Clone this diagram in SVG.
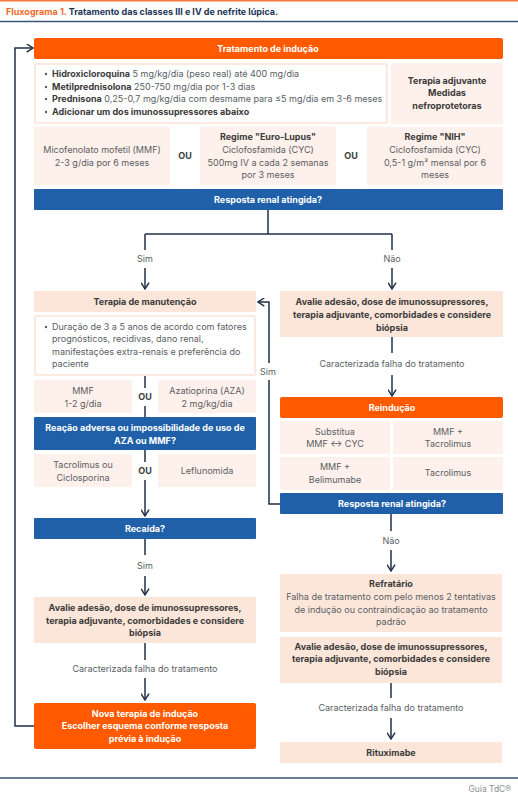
<svg xmlns="http://www.w3.org/2000/svg" width="518" height="800" viewBox="0 0 518 800">
<defs>
<marker id="ah" viewBox="0 0 10 10" refX="9" refY="5" markerWidth="9" markerHeight="9" markerUnits="userSpaceOnUse" orient="auto">
<path d="M2,0.5 L9,5 L2,9.5" fill="none" stroke="#1E3048" stroke-width="1.6"/>
</marker>
<style>
text{font-family:Inter,"Noto Sans","Liberation Sans",sans-serif;font-size:9px;}
.t{fill:#5a5e64;text-anchor:middle;}
.tl{fill:#5a5e64;}
.b{fill:#3b3b3b;font-weight:700;text-anchor:middle;}
.bl{fill:#3b3b3b;font-weight:700;}
.w{fill:#ffffff;font-weight:700;text-anchor:middle;}
.lab{fill:#5a5e64;text-anchor:middle;}
.or{fill:#FF5A00;}
.bl2{fill:#1F60A8;}
.pk{fill:#FCE6D9;}
.pl{fill:#FEF0EA;}
.wb{fill:#ffffff;stroke:#FBE2D5;stroke-width:1.5;}
.c{fill:none;stroke:#1E3048;stroke-width:1.5;}
.dot{fill:#555a60;}
</style>
</defs>
<rect width="518" height="800" fill="#ffffff"/>
<rect x="0" y="0" width="518" height="1.5" fill="#F47B3A"/>
<g id="title">
<text x="6" y="15" style="font-size:9px;font-weight:700;fill:#F06A28">Fluxograma 1. <tspan style="fill:#1D3557">Tratamento das classes III e IV de nefrite lúpica.</tspan></text>
<line x1="0" y1="21.5" x2="518" y2="21.5" stroke="#3B5575" stroke-width="1.5"/>
</g>

<g id="connectors">
<path class="c" d="M34,726 H15 V48 H33" marker-end="url(#ah)"/>
<path class="c" d="M268,210 V234"/>
<path class="c" d="M145,234 H392"/>
<path class="c" d="M145,234 V250"/>
<path class="c" d="M145,268 V289" marker-end="url(#ah)"/>
<path class="c" d="M392,234 V250"/>
<path class="c" d="M392,268 V289" marker-end="url(#ah)"/>
<path class="c" d="M392,337 V353"/>
<path class="c" d="M392,375 V396" marker-end="url(#ah)"/>
<path class="c" d="M280,504 H269 V380"/>
<path class="c" d="M269,363 V302 H258" marker-end="url(#ah)"/>
<path class="c" d="M145,376 V388"/>
<path class="c" d="M145,406 V417"/>
<path class="c" d="M145,450 V462"/>
<path class="c" d="M145,480 V516" marker-end="url(#ah)"/>
<path class="c" d="M145,539 V555"/>
<path class="c" d="M145,576 V595" marker-end="url(#ah)"/>
<path class="c" d="M145,643 V660"/>
<path class="c" d="M145,678 V700" marker-end="url(#ah)"/>
<path class="c" d="M391,514 V531"/>
<path class="c" d="M391,550 V571" marker-end="url(#ah)"/>
<path class="c" d="M391,683 V698"/>
<path class="c" d="M391,718 V739" marker-end="url(#ah)"/>
<text class="lab" x="145" y="262">Sim</text>
<text class="lab" x="392" y="262">Não</text>
<text class="lab" x="392" y="367">Caracterizada falha do tratamento</text>
<text class="lab" x="268" y="375">Sim</text>
<text class="b" x="145" y="400">OU</text>
<text class="b" x="145" y="474">OU</text>
<text class="lab" x="145" y="569">Sim</text>
<text class="lab" x="145" y="672">Caracterizada falha do tratamento</text>
<text class="lab" x="391" y="544">Não</text>
<text class="lab" x="391" y="711">Caracterizada falha do tratamento</text>
</g>

<g id="inducao">
<rect class="or" x="34" y="38" width="469" height="21" rx="2"/>
<text class="w" x="268" y="52">Tratamento de indução</text>
</g>
<g id="bullets">
<rect class="wb" x="35" y="64" width="352" height="59" rx="1"/>
<circle class="dot" cx="46" cy="74" r="1.2"/>
<circle class="dot" cx="46" cy="87" r="1.2"/>
<circle class="dot" cx="46" cy="99" r="1.2"/>
<circle class="dot" cx="46" cy="112" r="1.2"/>
<text class="tl" x="52" y="77"><tspan class="bl">Hidroxicloroquina</tspan> 5 mg/kg/dia (peso real) até 400 mg/dia</text>
<text class="tl" x="52" y="90"><tspan class="bl">Metilprednisolona</tspan> 250-750 mg/dia por 1-3 dias</text>
<text class="tl" x="52" y="102"><tspan class="bl">Prednisona</tspan> 0,25-0,7 mg/kg/dia com desmame para ≤5 mg/dia em 3-6 meses</text>
<text class="bl" x="52" y="115">Adicionar um dos imunossupressores abaixo</text>
</g>
<g id="adjuvante">
<rect class="pl" x="391" y="63" width="112" height="61" rx="1"/>
<text class="b" x="447" y="84">Terapia adjuvante</text>
<text class="b" x="447" y="96">Medidas</text>
<text class="b" x="447" y="109">nefroprotetoras</text>
</g>
<g id="mmf">
<rect class="pl" x="34" y="127" width="136" height="58" rx="1"/>
<text class="t" x="102" y="153">Micofenolato mofetil (MMF)</text>
<text class="t" x="102" y="166">2-3 g/dia por 6 meses</text>
</g>
<text class="b" x="185" y="159">OU</text>
<g id="eurolupus">
<rect class="pl" x="200" y="127" width="136" height="58" rx="1"/>
<text class="b" x="268" y="140">Regime "Euro-Lupus"</text>
<text class="t" x="268" y="153">Ciclofosfamida (CYC)</text>
<text class="t" x="268" y="166">500mg IV a cada 2 semanas</text>
<text class="t" x="268" y="178">por 3 meses</text>
</g>
<text class="b" x="351" y="159">OU</text>
<g id="nih">
<rect class="pl" x="367" y="127" width="136" height="58" rx="1"/>
<text class="b" x="435" y="140">Regime "NIH"</text>
<text class="t" x="435" y="153">Ciclofosfamida (CYC)</text>
<text class="t" x="435" y="166">0,5-1 g/m² mensal por 6</text>
<text class="t" x="435" y="178">meses</text>
</g>
<g id="resposta1">
<rect class="bl2" x="34" y="189" width="469" height="21" rx="1"/>
<text class="w" x="268" y="203">Resposta renal atingida?</text>
</g>

<g id="manutencao">
<rect class="pk" x="34" y="291" width="222" height="21" rx="1"/>
<text class="b" x="145" y="305">Terapia de manutenção</text>
</g>
<g id="manut-bullets">
<rect class="wb" x="35" y="316" width="220" height="59" rx="1"/>
<circle class="dot" cx="46" cy="327" r="1.2"/>
<text class="tl" x="52" y="330">Duração de 3 a 5 anos de acordo com fatores</text>
<text class="tl" x="52" y="342">prognósticos, recidivas, dano renal,</text>
<text class="tl" x="52" y="355">manifestações extra-renais e preferência do</text>
<text class="tl" x="52" y="367">paciente</text>
</g>
<g id="mmf2">
<rect class="pl" x="34" y="380" width="98" height="33" rx="1"/>
<text class="t" x="83" y="394">MMF</text>
<text class="t" x="83" y="407">1-2 g/dia</text>
</g>
<g id="aza">
<rect class="pl" x="158" y="380" width="98" height="33" rx="1"/>
<text class="t" x="207" y="394">Azatioprina (AZA)</text>
<text class="t" x="207" y="407">2 mg/kg/dia</text>
</g>
<g id="reacao">
<rect class="bl2" x="34" y="417" width="222" height="33" rx="1"/>
<text class="w" x="145" y="431">Reação adversa ou impossibilidade de uso de</text>
<text class="w" x="145" y="444">AZA ou MMF?</text>
</g>
<g id="tacro">
<rect class="pl" x="34" y="454" width="98" height="33" rx="1"/>
<text class="t" x="83" y="468">Tacrolimus ou</text>
<text class="t" x="83" y="481">Ciclosporina</text>
</g>
<g id="leflu">
<rect class="pl" x="158" y="454" width="98" height="33" rx="1"/>
<text class="t" x="207" y="474">Leflunomida</text>
</g>
<g id="recaida">
<rect class="bl2" x="34" y="518" width="222" height="21" rx="1"/>
<text class="w" x="145" y="532">Recaída?</text>
</g>
<g id="avalie-left">
<rect class="pk" x="34" y="597" width="222" height="46" rx="1"/>
<text class="b" x="145" y="611">Avalie adesão, dose de imunossupressores,</text>
<text class="b" x="145" y="624">terapia adjuvante, comorbidades e considere</text>
<text class="b" x="145" y="636">biópsia</text>
</g>
<g id="nova">
<rect class="or" x="34" y="703" width="222" height="46" rx="2"/>
<text class="w" x="145" y="717">Nova terapia de indução</text>
<text class="w" x="145" y="729">Escolher esquema conforme resposta</text>
<text class="w" x="145" y="742">prévia à indução</text>
</g>

<g id="avalie-right1">
<rect class="pk" x="280" y="291" width="223" height="46" rx="1"/>
<text class="b" x="392" y="305">Avalie adesão, dose de imunossupressores,</text>
<text class="b" x="392" y="318">terapia adjuvante, comorbidades e considere</text>
<text class="b" x="392" y="331">biópsia</text>
</g>
<g id="reinducao">
<rect class="or" x="280" y="397" width="223" height="21" rx="2"/>
<text class="w" x="392" y="411">Reindução</text>
</g>
<g id="r1">
<rect class="pl" x="280" y="421" width="110" height="33"/>
<text class="t" x="335" y="435">Substitua</text>
<text class="t" x="335" y="447">MMF ↔ CYC</text>
</g>
<g id="r2">
<rect class="pl" x="393" y="421" width="110" height="33"/>
<text class="t" x="448" y="435">MMF +</text>
<text class="t" x="448" y="447">Tacrolimus</text>
</g>
<g id="r3">
<rect class="pl" x="280" y="457" width="110" height="33"/>
<text class="t" x="335" y="470">MMF +</text>
<text class="t" x="335" y="483">Belimumabe</text>
</g>
<g id="r4">
<rect class="pl" x="393" y="457" width="110" height="33"/>
<text class="t" x="448" y="476">Tacrolimus</text>
</g>
<g id="resposta2">
<rect class="bl2" x="280" y="493" width="223" height="21" rx="1"/>
<text class="w" x="392" y="507">Resposta renal atingida?</text>
</g>
<g id="refratario">
<rect class="pk" x="280" y="574" width="222" height="58" rx="1"/>
<text class="b" x="391" y="587">Refratário</text>
<text class="t" x="391" y="600">Falha de tratamento com pelo menos 2 tentativas</text>
<text class="t" x="391" y="613">de indução ou contraindicação ao tratamento</text>
<text class="t" x="391" y="625">padrão</text>
</g>
<g id="avalie-right2">
<rect class="pk" x="280" y="637" width="222" height="46" rx="1"/>
<text class="b" x="391" y="650">Avalie adesão, dose de imunossupressores,</text>
<text class="b" x="391" y="662">terapia adjuvante, comorbidades e considere</text>
<text class="b" x="391" y="675">biópsia</text>
</g>
<g id="rituximabe">
<rect class="pk" x="280" y="742" width="222" height="21" rx="1"/>
<text class="b" x="391" y="756">Rituximabe</text>
</g>

<g id="footer">
<line x1="0" y1="778" x2="518" y2="778" stroke="#3B5575" stroke-width="1.5"/>
<text x="511" y="792" style="fill:#8a8d91;font-size:8.5px;text-anchor:end">Guia TdC®</text>
</g>
</svg>
